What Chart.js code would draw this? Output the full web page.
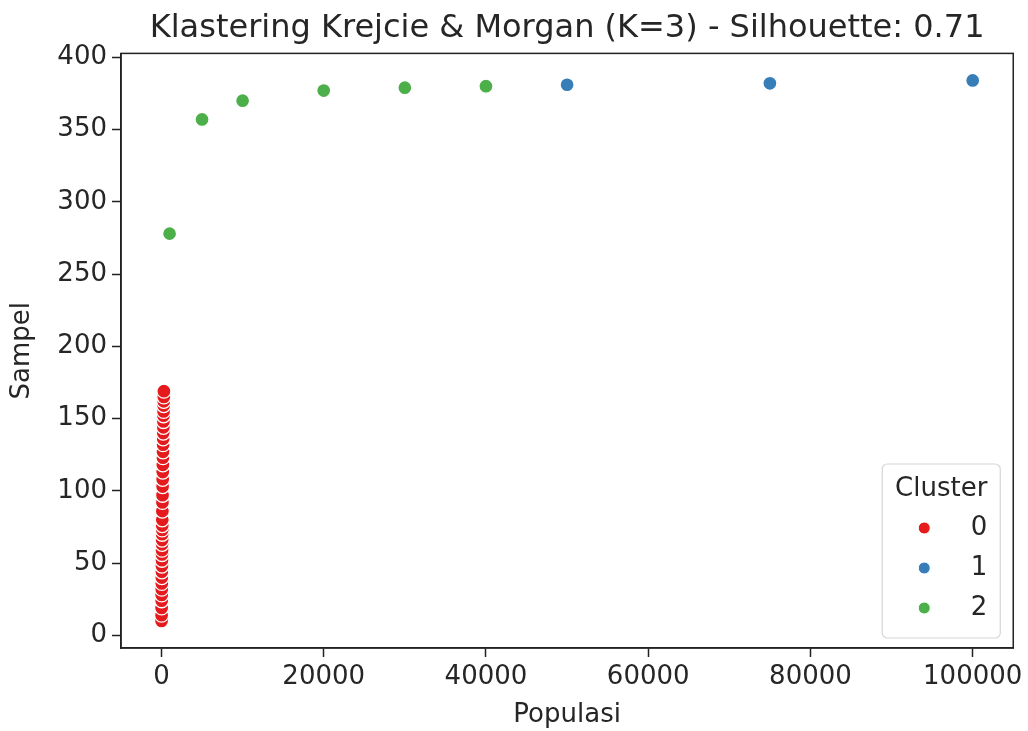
<!DOCTYPE html>
<html><head><meta charset="utf-8">
<script src="https://cdn.jsdelivr.net/npm/chart.js@4.4.1/dist/chart.umd.min.js"></script>
<style>html,body{margin:0;padding:0;background:#fff;overflow:hidden}</style>
</head><body><canvas id="c" width="1028" height="731"></canvas>
<script>
const chartTitle = 'Klastering Krejcie & Morgan (K=3) - Silhouette: 0.71';
const xLabel = 'Populasi';
const yLabel = 'Sampel';
const legendTitle = 'Cluster';
const clusterNames = ['0', '1', '2'];
const clusterColors = ['#e41a1c', '#377eb8', '#4daf4a'];

const cluster0Pop = [10,15,20,25,30,35,40,45,50,55,60,65,70,75,80,85,90,95,100,110,120,130,140,150,160,170,180,190,200,210,220,230,240,250,260,270,280,290,300];
const cluster0Sample = [10,14,19,24,28,32,36,40,44,48,52,56,59,63,66,70,73,76,80,86,92,97,103,108,113,118,123,127,132,136,140,144,148,152,155,159,162,165,169];
const cluster1Pop = [50000,75000,100000];
const cluster1Sample = [381,382,384];
const cluster2Pop = [1000,5000,10000,20000,30000,40000];
const cluster2Sample = [278,357,370,377,379,380];

const xTicks = [0,20000,40000,60000,80000,100000];
const yTicks = [0,50,100,150,200,250,300,350,400];

const FONT = 'DejaVu Sans';
const INK = '#262626';

function pts(xs, ys){ return xs.map((x,i)=>({x:x, y:ys[i]})); }
const allX = cluster0Pop.concat(cluster1Pop, cluster2Pop);
const allY = cluster0Sample.concat(cluster1Sample, cluster2Sample);
const xmin0 = Math.min(...allX), xmax0 = Math.max(...allX);
const ymin0 = Math.min(...allY), ymax0 = Math.max(...allY);
const xm = 0.05*(xmax0-xmin0), ym = 0.05*(ymax0-ymin0);

const series = [
  {name: clusterNames[0], color: clusterColors[0], data: pts(cluster0Pop, cluster0Sample)},
  {name: clusterNames[1], color: clusterColors[1], data: pts(cluster1Pop, cluster1Sample)},
  {name: clusterNames[2], color: clusterColors[2], data: pts(cluster2Pop, cluster2Sample)}
];

const frame = {
  id: 'frame',
  afterDatasetsDraw(chart){
    const {ctx, chartArea:a} = chart;
    ctx.save();
    ctx.strokeStyle = '#222';
    ctx.lineWidth = 1.5;
    ctx.strokeRect(a.left, a.top, a.right-a.left, a.bottom-a.top);
    ctx.restore();
  }
};

const legendBox = {
  id: 'legendBox',
  afterDraw(chart){
    const {ctx, chartArea:a} = chart;
    const w = 118, h = 174;
    const right = a.right - 13, bottom = a.bottom - 10;
    const left = right - w, top = bottom - h;
    ctx.save();
    ctx.beginPath();
    ctx.roundRect(left, top, w, h, 5);
    ctx.fillStyle = 'rgba(255,255,255,0.8)';
    ctx.fill();
    ctx.strokeStyle = '#d6d6d6';
    ctx.lineWidth = 1.2;
    ctx.stroke();
    ctx.font = '26px "' + FONT + '"';
    ctx.fillStyle = INK;
    ctx.textBaseline = 'middle';
    ctx.textAlign = 'center';
    ctx.fillText(legendTitle, left + w/2, top + 25);
    chart.data.datasets.forEach((ds, i) => {
      const cy = top + 64 + i*40;
      ctx.beginPath();
      ctx.arc(left + 42, cy, 6, 0, Math.PI*2);
      ctx.fillStyle = ds.backgroundColor;
      ctx.fill();
      ctx.strokeStyle = '#fff';
      ctx.lineWidth = 1;
      ctx.stroke();
      ctx.fillStyle = INK;
      ctx.textAlign = 'right';
      ctx.fillText(ds.label, left + 105, cy);
    });
    ctx.restore();
  }
};

new Chart(document.getElementById('c'), {
  type: 'scatter',
  data: {
    datasets: series.map(s => ({
      label: s.name,
      data: s.data,
      backgroundColor: s.color,
      borderColor: '#ffffff',
      borderWidth: 1.3,
      pointRadius: 7,
      pointHoverRadius: 7
    }))
  },
  options: {
    responsive: false,
    animation: false,
    devicePixelRatio: 1,
    layout: {padding: {left: 0, right: 14, top: 0, bottom: 0}},
    plugins: {
      legend: {display: false},
      tooltip: {enabled: false},
      title: {
        display: true,
        fullSize: false,
        text: chartTitle,
        color: INK,
        font: {family: FONT, size: 32, weight: 'normal', lineHeight: 1.2},
        padding: {top: 9, bottom: 6}
      }
    },
    scales: {
      x: {
        type: 'linear',
        min: xmin0 - xm,
        max: xmax0 + xm,
        afterBuildTicks(scale){ scale.ticks = xTicks.map(v => ({value: v})); },
        afterFit(scale){ scale.height = 83; },
        ticks: {
          color: INK,
          font: {family: FONT, size: 26},
          padding: 5,
          maxRotation: 0,
          autoSkip: false,
          callback: v => String(v)
        },
        grid: {display: true, drawOnChartArea: false, drawTicks: true, tickLength: 9, tickWidth: 1.5, tickColor: '#222'},
        border: {display: true, color: '#222', width: 1.5},
        title: {display: true, text: xLabel, color: INK, font: {family: FONT, size: 26}, padding: {top: 4, bottom: 0}}
      },
      y: {
        type: 'linear',
        min: ymin0 - ym,
        max: ymax0 + ym,
        afterBuildTicks(scale){ scale.ticks = yTicks.map(v => ({value: v})); },
        afterFit(scale){ scale.width = 121; },
        ticks: {
          color: INK,
          font: {family: FONT, size: 26},
          padding: 5,
          autoSkip: false,
          callback: v => String(v)
        },
        grid: {display: true, drawOnChartArea: false, drawTicks: true, tickLength: 9, tickWidth: 1.5, tickColor: '#222'},
        border: {display: true, color: '#222', width: 1.5},
        title: {display: true, text: yLabel, color: INK, font: {family: FONT, size: 26}, padding: {top: 7, bottom: 4}}
      }
    }
  },
  plugins: [frame, legendBox]
});
</script>
</body></html>
